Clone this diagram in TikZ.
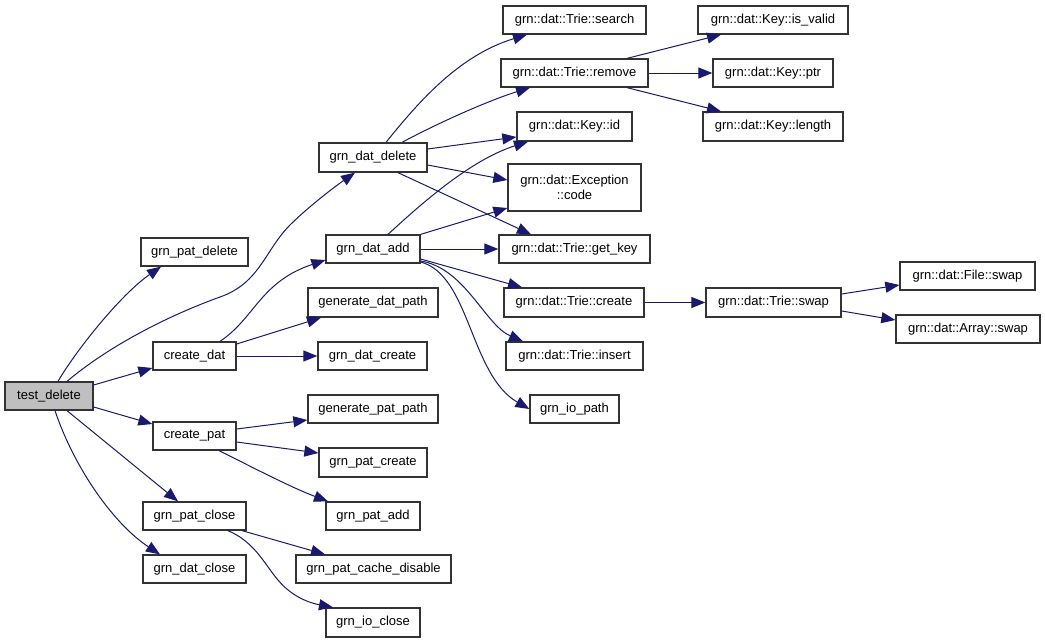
\documentclass[tikz,border=0pt]{standalone}
\usepackage{fontspec}
\setmainfont{Liberation Sans}
\usetikzlibrary{arrows.meta}
\definecolor{midblue}{HTML}{191970}
\begin{document}
\begin{tikzpicture}[x=1pt,y=-1pt,
  box/.style={draw=black!80, fill=white, line width=1.3pt, inner sep=0pt, minimum height=28pt,
    font=\fontsize{13}{15.5}\selectfont, align=center},
  edge/.style={draw=midblue, line width=1pt, -{Triangle[length=14pt,width=11pt]}}]
\useasboundingbox (0,0) rectangle (1045,643);
% column 0
\node[box, minimum width=88pt, fill=gray!50] (td) at (49,396) {test\_delete};
% column 1
\node[box, minimum width=107pt] (gpd) at (194.5,252) {grn\_pat\_delete};
\node[box, minimum width=83pt] (cd) at (194.5,356) {create\_dat};
\node[box, minimum width=83pt] (cp) at (194.5,436) {create\_pat};
\node[box, minimum width=103pt] (gpc) at (194.5,516) {grn\_pat\_close};
\node[box, minimum width=103pt] (gdc) at (194.5,569) {grn\_dat\_close};
% column 2
\node[box, minimum width=108pt, minimum height=29pt] (gdd) at (373,157.5) {grn\_dat\_delete};
\node[box, minimum width=94pt] (gda) at (373,249) {grn\_dat\_add};
\node[box, minimum width=130pt, minimum height=29pt] (gdp) at (373,302.5) {generate\_dat\_path};
\node[box, minimum width=109pt] (gdcr) at (372.5,356) {grn\_dat\_create};
\node[box, minimum width=130pt] (gpp) at (373,409) {generate\_pat\_path};
\node[box, minimum width=108pt, minimum height=29pt] (gpcr) at (373,462.5) {grn\_pat\_create};
\node[box, minimum width=94pt] (gpa) at (373,516) {grn\_pat\_add};
\node[box, minimum width=155pt] (gpcd) at (373.5,569) {grn\_pat\_cache\_disable};
\node[box, minimum width=94pt, minimum height=29pt] (gioc) at (373,622.5) {grn\_io\_close};
% column 3
\node[box, minimum width=143pt] (tsearch) at (574.5,20) {grn::dat::Trie::search};
\node[box, minimum width=147pt] (tremove) at (574.5,73) {grn::dat::Trie::remove};
\node[box, minimum width=115pt, minimum height=29pt] (keyid) at (574.5,126.5) {grn::dat::Key::id};
\node[box, minimum width=133pt, minimum height=47pt] (exc) at (574.5,187.5) {grn::dat::Exception\\::code};
\node[box, minimum width=151pt] (getkey) at (574.5,249) {grn::dat::Trie::get\_key};
\node[box, minimum width=140pt, minimum height=29pt] (tcreate) at (574,302.5) {grn::dat::Trie::create};
\node[box, minimum width=137pt] (tinsert) at (574.5,356) {grn::dat::Trie::insert};
\node[box, minimum width=89pt] (giop) at (574.5,409) {grn\_io\_path};
% column 4
\node[box, minimum width=150pt] (kvalid) at (773,20) {grn::dat::Key::is\_valid};
\node[box, minimum width=120pt] (kptr) at (773,73) {grn::dat::Key::ptr};
\node[box, minimum width=140pt, minimum height=29pt] (klen) at (773,126.5) {grn::dat::Key::length};
\node[box, minimum width=135pt, minimum height=29pt] (tswap) at (773.5,302.5) {grn::dat::Trie::swap};
% column 5
\node[box, minimum width=135pt] (fswap) at (967.5,276) {grn::dat::File::swap};
\node[box, minimum width=144pt] (aswap) at (968,329) {grn::dat::Array::swap};

% edges from test_delete
\draw[edge] (td.north -| 58,0) .. controls (75,352) and (120,295) .. (gpd.south -| 161,0);
\draw[edge] (td.north -| 67,0) .. controls (110,345) and (170,315) .. (220,297)
   .. controls (260,283) and (265,250) .. (290,225) .. controls (305,210) and (330,190) .. (gdd.south -| 355,0);
\draw[edge] (td.east |- 0,385) -- (cd.west |- 0,368);
\draw[edge] (td.east |- 0,407) -- (cp.west |- 0,424);
\draw[edge] (td.south -| 67,0) -- (gpc.north -| 178,0);
\draw[edge] (td.south -| 55,0) .. controls (75,470) and (115,525) .. (gdc.north -| 160,0);
% create_dat
\draw[edge] (cd.north -| 220,0) .. controls (255,318) and (260,282) .. (gda.west |- 0,260);
\draw[edge] (cd.east |- 0,344) -- (gdp.south -| 321,0);
\draw[edge] (cd.east) -- (gdcr.west);
% create_pat
\draw[edge] (cp.east |- 0,429) -- (gpp.west |- 0,420);
\draw[edge] (cp.east |- 0,442) -- (gpcr.west |- 0,453);
\draw[edge] (cp.south -| 219,0) .. controls (250,466) and (290,487) .. (gpa.north -| 328,0);
% grn_pat_close
\draw[edge] (gpc.south -| 242,0) -- (gpcd.north -| 325,0);
\draw[edge] (gpc.south -| 228,0) .. controls (255,542) and (265,565) .. (278,580)
   .. controls (292,597) and (310,603) .. (gioc.north -| 333,0);
% grn_dat_delete
\draw[edge] (gdd.north -| 386,0) .. controls (420,100) and (460,55) .. (tsearch.south -| 527,0);
\draw[edge] (gdd.north -| 402,0) .. controls (440,122) and (490,100) .. (tremove.south -| 530,0);
\draw[edge] (gdd.east |- 0,149) -- (keyid.west |- 0,137);
\draw[edge] (gdd.east |- 0,165) -- (exc.west |- 0,180);
\draw[edge] (gdd.south -| 398,0) -- (getkey.north -| 531,0);
% grn_dat_add
\draw[edge] (gda.north -| 388,0) .. controls (420,205) and (470,160) .. (keyid.south -| 528,0);
\draw[edge] (gda.north east) -- (exc.west |- 0,208);
\draw[edge] (gda.east) -- (getkey.west);
\draw[edge] (gda.east |- 0,259) -- (tcreate.north -| 522,0);
\draw[edge] (gda.east |- 0,261) .. controls (465,268) and (485,325) .. (tinsert.north -| 523,0);
\draw[edge] (gda.east |- 0,262) .. controls (470,275) and (470,375) .. (giop.west |- 0,409);
% remove
\draw[edge] (tremove.north -| 627,0) -- (kvalid.south -| 721,0);
\draw[edge] (tremove.east) -- (kptr.west);
\draw[edge] (tremove.south -| 627,0) -- (klen.north -| 721,0);
% create / swap
\draw[edge] (tcreate.east) -- (tswap.west);
\draw[edge] (tswap.east |- 0,294) -- (fswap.west |- 0,285);
\draw[edge] (tswap.east |- 0,311) -- (aswap.west |- 0,320);
\end{tikzpicture}
\end{document}
